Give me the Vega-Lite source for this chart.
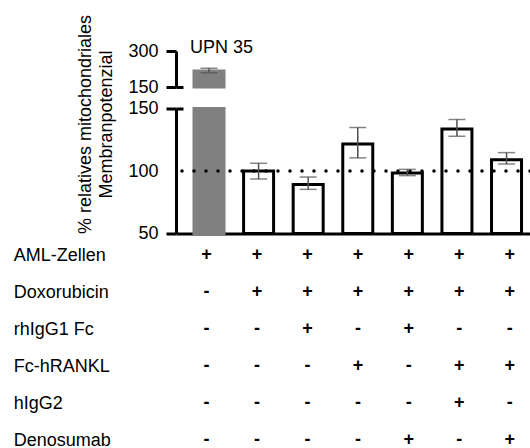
{
  "$schema": "https://vega.github.io/schema/vega-lite/v6.json",
  "padding": {"left": 13, "top": 14, "right": 0, "bottom": 0},
  "config": {"font": "Liberation Sans", "view": {"stroke": null}},
  "bounds": "flush",
  "spacing": 21.5,
  "datasets": {
    "bars": [
      {"c": "c1", "g": "ctrl", "mean": 217, "lo": 209, "hi": 228, "label": "UPN 35"},
      {"c": "c2", "g": "trt", "mean": 100, "lo": 93.6, "hi": 106.2, "label": ""},
      {"c": "c3", "g": "trt", "mean": 89.3, "lo": 85.3, "hi": 95.2, "label": ""},
      {"c": "c4", "g": "trt", "mean": 121.7, "lo": 110.5, "hi": 134.8, "label": ""},
      {"c": "c5", "g": "trt", "mean": 98.4, "lo": 96.3, "hi": 101.3, "label": ""},
      {"c": "c6", "g": "trt", "mean": 133.7, "lo": 127.8, "hi": 141.2, "label": ""},
      {"c": "c7", "g": "trt", "mean": 109.1, "lo": 105.6, "hi": 114.7, "label": ""}
    ],
    "table": [
      {"c": "c1", "row": "AML-Zellen", "s": "+"},
      {"c": "c2", "row": "AML-Zellen", "s": "+"},
      {"c": "c3", "row": "AML-Zellen", "s": "+"},
      {"c": "c4", "row": "AML-Zellen", "s": "+"},
      {"c": "c5", "row": "AML-Zellen", "s": "+"},
      {"c": "c6", "row": "AML-Zellen", "s": "+"},
      {"c": "c7", "row": "AML-Zellen", "s": "+"},
      {"c": "c1", "row": "Doxorubicin", "s": "-"},
      {"c": "c2", "row": "Doxorubicin", "s": "+"},
      {"c": "c3", "row": "Doxorubicin", "s": "+"},
      {"c": "c4", "row": "Doxorubicin", "s": "+"},
      {"c": "c5", "row": "Doxorubicin", "s": "+"},
      {"c": "c6", "row": "Doxorubicin", "s": "+"},
      {"c": "c7", "row": "Doxorubicin", "s": "+"},
      {"c": "c1", "row": "rhIgG1 Fc", "s": "-"},
      {"c": "c2", "row": "rhIgG1 Fc", "s": "-"},
      {"c": "c3", "row": "rhIgG1 Fc", "s": "+"},
      {"c": "c4", "row": "rhIgG1 Fc", "s": "-"},
      {"c": "c5", "row": "rhIgG1 Fc", "s": "+"},
      {"c": "c6", "row": "rhIgG1 Fc", "s": "-"},
      {"c": "c7", "row": "rhIgG1 Fc", "s": "-"},
      {"c": "c1", "row": "Fc-hRANKL", "s": "-"},
      {"c": "c2", "row": "Fc-hRANKL", "s": "-"},
      {"c": "c3", "row": "Fc-hRANKL", "s": "-"},
      {"c": "c4", "row": "Fc-hRANKL", "s": "+"},
      {"c": "c5", "row": "Fc-hRANKL", "s": "-"},
      {"c": "c6", "row": "Fc-hRANKL", "s": "+"},
      {"c": "c7", "row": "Fc-hRANKL", "s": "+"},
      {"c": "c1", "row": "hIgG2", "s": "-"},
      {"c": "c2", "row": "hIgG2", "s": "-"},
      {"c": "c3", "row": "hIgG2", "s": "-"},
      {"c": "c4", "row": "hIgG2", "s": "-"},
      {"c": "c5", "row": "hIgG2", "s": "-"},
      {"c": "c6", "row": "hIgG2", "s": "+"},
      {"c": "c7", "row": "hIgG2", "s": "-"},
      {"c": "c1", "row": "Denosumab", "s": "-"},
      {"c": "c2", "row": "Denosumab", "s": "-"},
      {"c": "c3", "row": "Denosumab", "s": "-"},
      {"c": "c4", "row": "Denosumab", "s": "-"},
      {"c": "c5", "row": "Denosumab", "s": "+"},
      {"c": "c6", "row": "Denosumab", "s": "-"},
      {"c": "c7", "row": "Denosumab", "s": "+"}
    ]
  },
  "vconcat": [
    {
      "width": 354,
      "height": 36,
      "data": {"name": "bars"},
      "transform": [{"filter": "datum.c == 'c1'"}],
      "layer": [
        {
          "mark": {"type": "bar", "fill": "#808080", "stroke": "#808080", "strokeWidth": 3},
          "encoding": {
            "x": {"field": "c", "type": "nominal", "scale": {"domain": ["c1", "c2", "c3", "c4", "c5", "c6", "c7"], "paddingInner": 0.395, "paddingOuter": 0.267, "align": 0.68}, "axis": null},
            "y": {"field": "mean", "type": "quantitative", "scale": {"domain": [150, 300], "zero": false, "nice": false},
              "axis": {"title": null, "values": [150, 300], "tickSize": 10, "tickWidth": 3, "tickColor": "black", "domainColor": "black", "domainWidth": 3, "labelFontSize": 18, "labelColor": "black", "labelPadding": 8, "labelFlush": false, "labelOverlap": false, "grid": true, "gridColor": "black", "gridWidth": 3, "gridDash": [7, 1000], "gridOpacity": {"condition": {"test": "datum.value == 150", "value": 1}, "value": 0}}},
            "y2": {"datum": 150}
          }
        },
        {
          "mark": {"type": "rule", "color": "#505050", "strokeWidth": 1.5},
          "encoding": {
            "x": {"field": "c", "type": "nominal", "scale": {"domain": ["c1", "c2", "c3", "c4", "c5", "c6", "c7"], "paddingInner": 0.395, "paddingOuter": 0.267, "align": 0.68}, "axis": null},
            "y": {"field": "lo", "type": "quantitative"},
            "y2": {"field": "hi"}
          }
        },
        {
          "mark": {"type": "tick", "color": "#505050", "thickness": 1.5, "size": 17},
          "encoding": {
            "x": {"field": "c", "type": "nominal", "scale": {"domain": ["c1", "c2", "c3", "c4", "c5", "c6", "c7"], "paddingInner": 0.395, "paddingOuter": 0.267, "align": 0.68}, "axis": null},
            "y": {"field": "lo", "type": "quantitative"}
          }
        },
        {
          "mark": {"type": "tick", "color": "#505050", "thickness": 1.5, "size": 17},
          "encoding": {
            "x": {"field": "c", "type": "nominal", "scale": {"domain": ["c1", "c2", "c3", "c4", "c5", "c6", "c7"], "paddingInner": 0.395, "paddingOuter": 0.267, "align": 0.68}, "axis": null},
            "y": {"field": "hi", "type": "quantitative"}
          }
        },
        {
          "mark": {"type": "text", "align": "left", "baseline": "alphabetic", "fontSize": 18, "dx": -4, "dy": 2, "color": "black"},
          "encoding": {
            "x": {"field": "c", "type": "nominal", "bandPosition": 0, "scale": {"domain": ["c1", "c2", "c3", "c4", "c5", "c6", "c7"], "paddingInner": 0.395, "paddingOuter": 0.267, "align": 0.68}, "axis": null},
            "y": {"datum": 300},
            "text": {"field": "label"}
          }
        }
      ]
    },
    {
      "width": 354,
      "height": 125,
      "layer": [
        {
          "data": {"name": "bars"},
          "mark": {"type": "bar", "strokeWidth": 3},
          "encoding": {
            "x": {"field": "c", "type": "nominal", "scale": {"domain": ["c1", "c2", "c3", "c4", "c5", "c6", "c7"], "paddingInner": 0.395, "paddingOuter": 0.267, "align": 0.68},
              "axis": {"title": null, "labels": false, "ticks": false, "domain": true, "domainWidth": 3, "domainColor": "black"}},
            "y": {"field": "mean", "type": "quantitative", "scale": {"domain": [50, 150], "zero": false, "nice": false, "clamp": true},
              "axis": {"title": ["% relatives mitochondriales", "Membranpotenzial"], "titleFontSize": 18, "titleFontWeight": "normal", "titleColor": "black", "titleX": -91, "titleY": 15.5, "titleBaseline": "middle", "titleAlign": "center", "titleLineHeight": 21,
                "values": [50, 100, 150], "tickSize": 10, "tickWidth": 3, "tickColor": "black", "tickOpacity": {"condition": {"test": "datum.value == 100", "value": 0}, "value": 1}, "domainColor": "black", "domainWidth": 3, "labelFontSize": 18, "labelColor": "black", "labelPadding": 8, "labelFlush": false, "labelOverlap": false, "grid": true, "gridColor": "black", "gridWidth": 3, "gridDash": [7, 1000], "gridOpacity": {"condition": {"test": "datum.value == 150", "value": 1}, "value": 0}}},
            "y2": {"datum": 50},
            "fill": {"field": "g", "type": "nominal", "scale": {"domain": ["ctrl", "trt"], "range": ["#808080", "#ffffff"]}, "legend": null},
            "stroke": {"field": "g", "type": "nominal", "scale": {"domain": ["ctrl", "trt"], "range": ["#808080", "#000000"]}, "legend": null}
          }
        },
        {
          "data": {"values": [{"ref": 100}]},
          "mark": {"type": "rule", "color": "black", "strokeWidth": 3.5, "strokeDash": [0, 12], "strokeCap": "round"},
          "encoding": {
            "y": {"field": "ref", "type": "quantitative"}
          }
        },
        {
          "data": {"name": "bars"},
          "transform": [{"filter": "datum.c != 'c1'"}],
          "mark": {"type": "rule", "color": "#505050", "strokeWidth": 1.5},
          "encoding": {
            "x": {"field": "c", "type": "nominal", "scale": {"domain": ["c1", "c2", "c3", "c4", "c5", "c6", "c7"], "paddingInner": 0.395, "paddingOuter": 0.267, "align": 0.68}},
            "y": {"field": "lo", "type": "quantitative"},
            "y2": {"field": "hi"}
          }
        },
        {
          "data": {"name": "bars"},
          "transform": [{"filter": "datum.c != 'c1'"}],
          "mark": {"type": "tick", "color": "#505050", "thickness": 1.5, "size": 17},
          "encoding": {
            "x": {"field": "c", "type": "nominal", "scale": {"domain": ["c1", "c2", "c3", "c4", "c5", "c6", "c7"], "paddingInner": 0.395, "paddingOuter": 0.267, "align": 0.68}},
            "y": {"field": "lo", "type": "quantitative"}
          }
        },
        {
          "data": {"name": "bars"},
          "transform": [{"filter": "datum.c != 'c1'"}],
          "mark": {"type": "tick", "color": "#505050", "thickness": 1.5, "size": 17},
          "encoding": {
            "x": {"field": "c", "type": "nominal", "scale": {"domain": ["c1", "c2", "c3", "c4", "c5", "c6", "c7"], "paddingInner": 0.395, "paddingOuter": 0.267, "align": 0.68}},
            "y": {"field": "hi", "type": "quantitative"}
          }
        }
      ]
    },
    {
      "width": 354,
      "height": 185,
      "data": {"name": "table"},
      "mark": {"type": "text", "fontSize": 18, "fontWeight": "bold", "dx": -4, "baseline": "middle", "color": "black"},
      "encoding": {
        "x": {"field": "c", "type": "nominal", "scale": {"domain": ["c1", "c2", "c3", "c4", "c5", "c6", "c7"], "paddingInner": 0.395, "paddingOuter": 0.267, "align": 0.68}, "axis": null},
        "y": {"field": "row", "type": "nominal", "scale": {"type": "point", "padding": 0, "domain": ["AML-Zellen", "Doxorubicin", "rhIgG1 Fc", "Fc-hRANKL", "hIgG2", "Denosumab"]},
          "axis": {"title": null, "domain": false, "ticks": false, "tickSize": 0, "labelAlign": "left", "labelBaseline": "middle", "labelPadding": 162.7, "labelFontSize": 18, "labelColor": "black", "labelLimit": 200}},
        "text": {"field": "s"}
      }
    }
  ]
}
